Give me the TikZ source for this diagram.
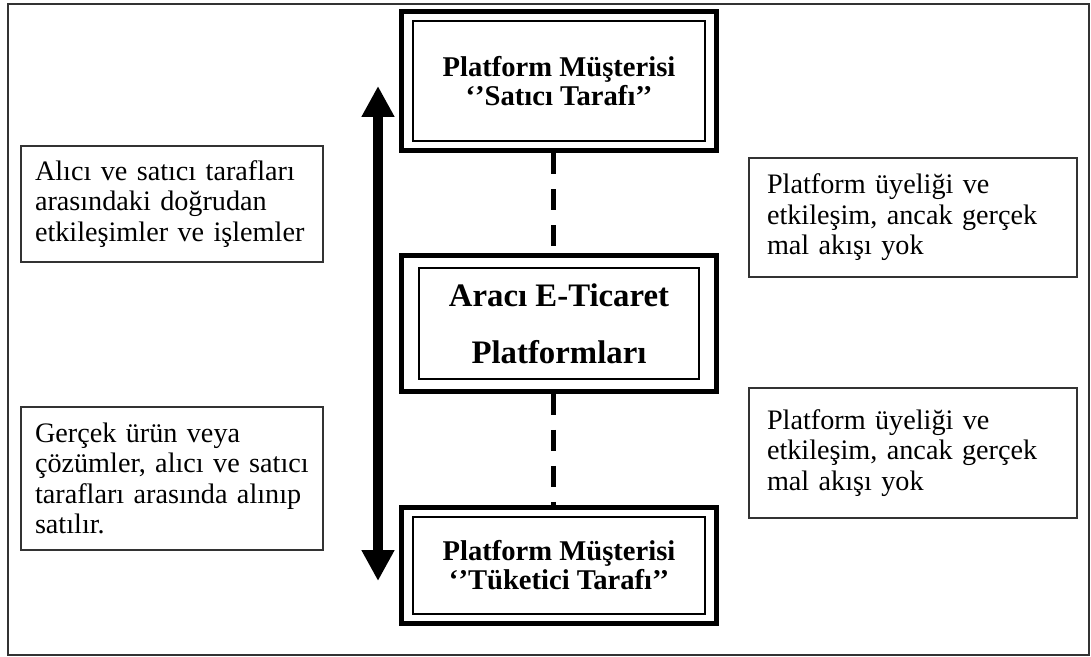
\documentclass[tikz,border=0pt]{standalone}
\usepackage{fontspec}
\setmainfont{Liberation Serif}
\usetikzlibrary{fit,arrows.meta}

\begin{document}
\begin{tikzpicture}[x=0.5pt, y=-0.5pt,
  side/.style = {draw=black!80, line width=0.8pt, align=left, inner xsep=7pt, font=\fontsize{14.1}{15.3}\selectfont},
  inbox/.style = {draw, line width=0.8pt, align=center, font=\bfseries\fontsize{14.3}{14.5}\selectfont},
  outbox/.style = {draw, line width=2.5pt, inner xsep=5.5pt, inner ysep=4.5pt},
  dashcon/.style = {line width=2.5pt, dash pattern=on 10.5pt off 7.5pt},
  bigarrow/.style = {line width=5pt, {Triangle[width=15.5pt,length=15.5pt]}-{Triangle[width=15.5pt,length=15.5pt]}}]
\useasboundingbox (0,0) rectangle (1091,657);
\draw[black!80, line width=1pt] (8,4) rectangle (1089,655);

% middle column
\node[inbox, minimum width=146pt, minimum height=60pt] (satIn) at (559,81) {Platform Müşterisi\\‘’Satıcı Tarafı’’};
\node[outbox, fit=(satIn)] (satOut) {};
\node[inbox, font=\bfseries\fontsize{16.4}{28.5}\selectfont, minimum width=140pt, minimum height=55.5pt] (araIn) at (559,323.5) {Aracı E-Ticaret\\Platformları};
\node[outbox, fit=(araIn), inner xsep=8.25pt, inner ysep=5.75pt] (araOut) {};
\node[inbox, minimum width=146pt, minimum height=48.5pt] (tukIn) at (559,565.5) {Platform Müşterisi\\‘’Tüketici Tarafı’’};
\node[outbox, fit=(tukIn)] (tukOut) {};

% side notes
\node[side, text width=137pt, minimum height=58pt] (alTop) at (172,204) {Alıcı ve satıcı tarafları\\arasındaki doğrudan\\etkileşimler ve işlemler};
\node[side, text width=137pt, minimum height=71.5pt] (alBot) at (172,478.5) {Gerçek ürün veya\\çözümler, alıcı ve satıcı\\tarafları arasında alınıp\\satılır.};
\node[side, inner xsep=9pt, text width=146pt, minimum height=59.5pt] (saTop) at (913,217.5) {Platform üyeliği ve\\etkileşim, ancak gerçek\\mal akışı yok};
\node[side, inner xsep=9pt, text width=146pt, minimum height=65pt] (saBot) at (913,453) {Platform üyeliği ve\\etkileşim, ancak gerçek\\mal akışı yok};

% connectors
\coordinate (arTop) at (378,86);
\coordinate (arBot) at (378,581);
\draw[bigarrow] (arBot) -- (arTop);
\draw[dashcon] ([xshift=-3pt]satOut.south) -- ([xshift=-3pt]araOut.north);
\draw[dashcon] ([xshift=-3pt]araOut.south) -- ([xshift=-3pt]tukOut.north);

\end{tikzpicture}
\end{document}
